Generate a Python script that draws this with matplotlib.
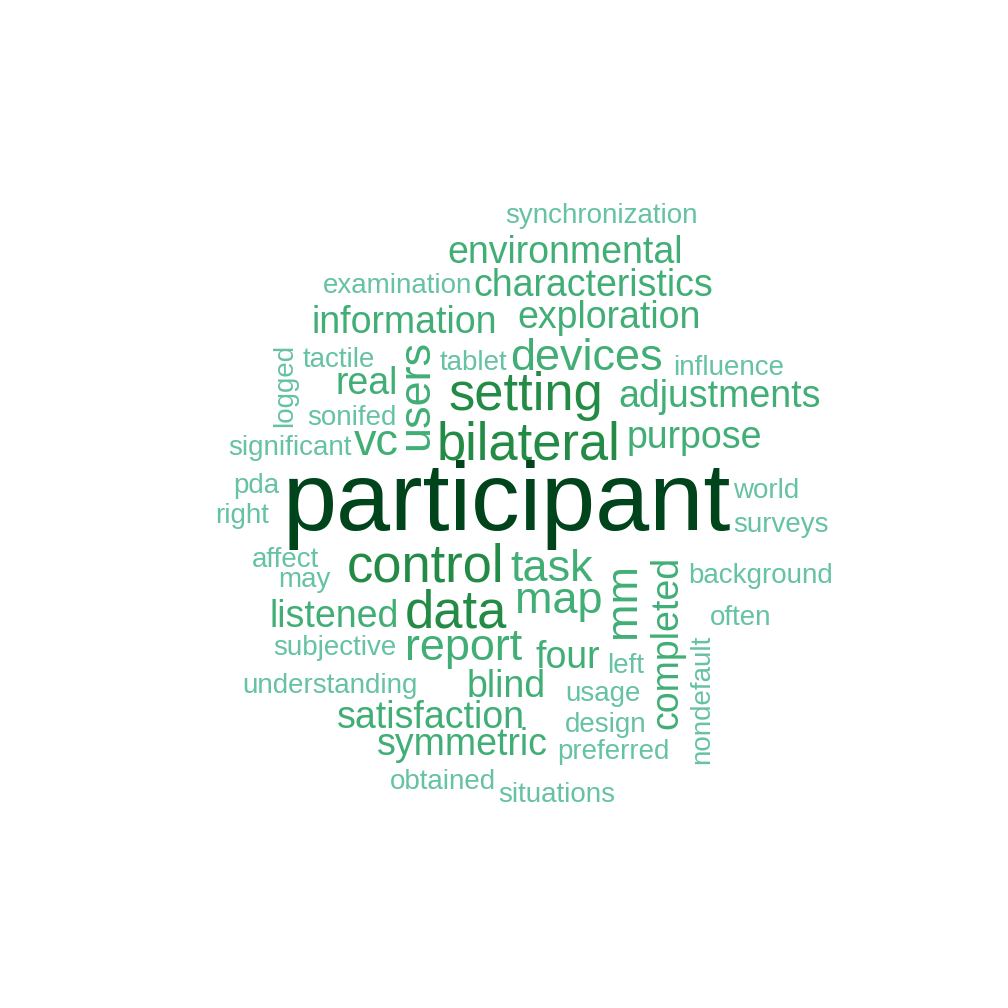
import matplotlib
matplotlib.use("Agg")
import matplotlib.pyplot as plt

mots = ["synchronization", "environmental", "examination", "characteristics",
        "information", "exploration", "logged", "tactile", "users", "tablet",
        "devices", "influence", "real", "setting", "adjustments", "sonifed",
        "significant", "vc", "bilateral", "purpose", "participant", "world",
        "pda", "right", "surveys", "affect", "may", "control", "task", "mm",
        "completed", "background", "map", "listened", "data", "often",
        "subjective", "report", "four", "left", "nondefault", "understanding",
        "blind", "usage", "satisfaction", "design", "symmetric", "preferred",
        "obtained", "situations"]
frequences = [4, 5, 4, 5,
              5, 5, 4, 4, 6, 4,
              6, 4, 5, 7, 5, 4,
              4, 6, 7, 5, 13, 4,
              4, 4, 4, 4, 4, 7, 6, 6,
              5, 4, 6, 5, 7, 4,
              4, 6, 5, 4, 4, 4,
              5, 4, 5, 4, 5, 4,
              4, 4]

# Placement du nuage (pixels, ligne de base)
pos_x = [505, 447, 323, 473,
         312, 517, 292, 303, 428, 440,
         510, 673, 335, 448, 618, 307,
         228, 354, 437, 627, 283, 733,
         233, 215, 733, 252, 278, 347, 510, 635,
         677, 688, 515, 270, 405, 710,
         273, 405, 535, 607, 709, 242,
         467, 565, 337, 565, 377, 557,
         390, 498]
pos_y = [223, 263, 293, 296,
         333, 328, 385, 367, 395, 370,
         370, 375, 394, 410, 407, 425,
         455, 455, 460, 448, 530, 498,
         493, 523, 532, 567, 587, 582, 581, 601,
         642, 583, 613, 627, 627, 625,
         655, 660, 668, 673, 699, 693,
         697, 701, 728, 732, 755, 759,
         789, 802]
verticaux = {"logged", "users", "mm", "completed", "nondefault"}

# Taille et couleur selon la fréquence (palette BuGn)
taille_pt = {4: 20, 5: 27, 6: 32.4, 7: 37.8, 13: 70}
couleur = {4: "#66c2a4", 5: "#41ae76", 6: "#41ae76", 7: "#238b45", 13: "#00441b"}

fig = plt.figure(figsize=(10.08, 10.08), dpi=100)
ax = fig.add_axes([0, 0, 1, 1])
ax.set_xlim(0, 1008)
ax.set_ylim(1008, 0)
ax.axis("off")

for mot, f, x, y in zip(mots, frequences, pos_x, pos_y):
    if mot in verticaux:
        ax.text(x, y, mot, fontsize=taille_pt[f], color=couleur[f],
                family="Liberation Sans", rotation=90, rotation_mode="anchor",
                ha="center", va="baseline")
    else:
        ax.text(x, y, mot, fontsize=taille_pt[f], color=couleur[f],
                family="Liberation Sans", ha="left", va="baseline")

fig.savefig("out.png", dpi=100, facecolor="white")
